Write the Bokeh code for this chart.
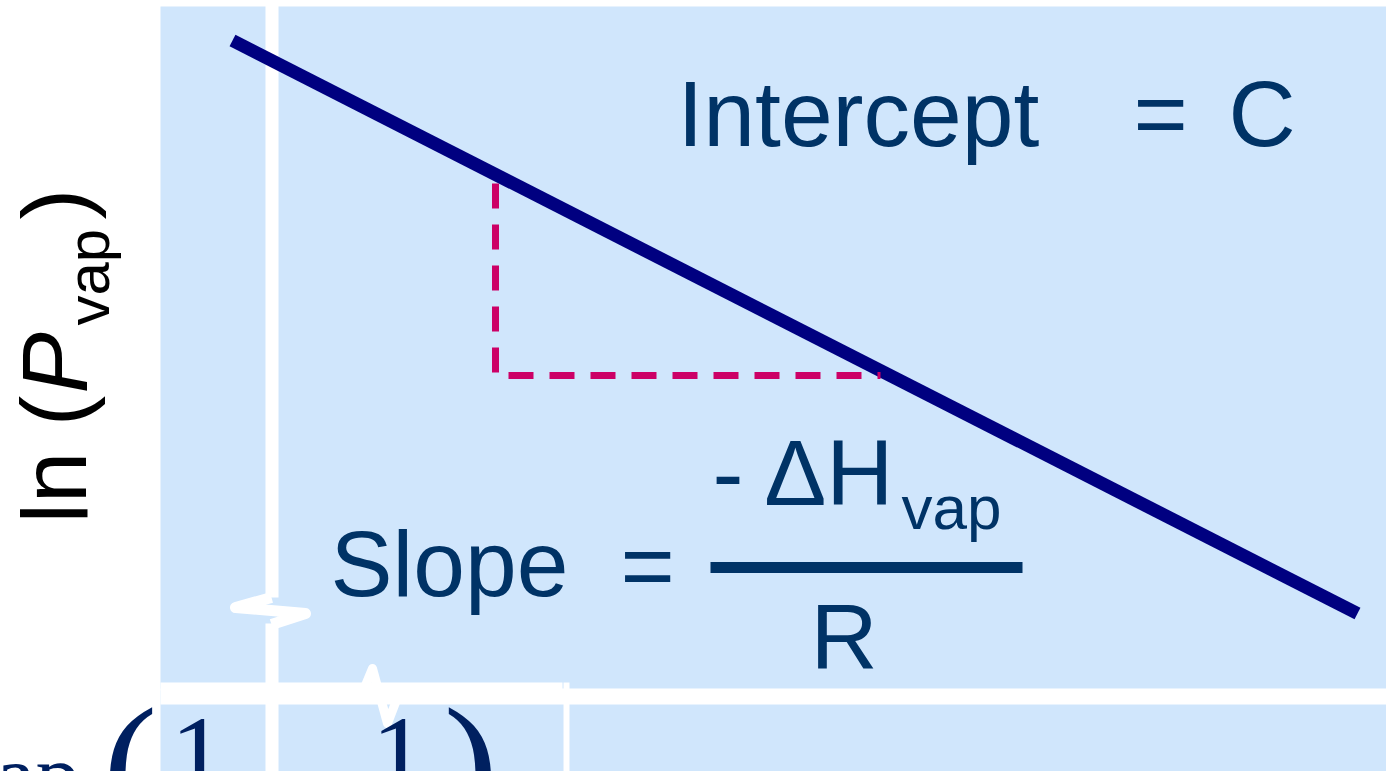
from bokeh.plotting import figure
from bokeh.models import Range1d
from bokeh.core.properties import value
from bokeh.embed import file_html
from bokeh.resources import INLINE

# ---- diagram data (screen-like units: x to the right, y downward) ----
# ln(P_vap) versus 1/T straight line
line_x = [232, 1357]
line_y = [40, 613]

# slope triangle (dashed)
tri_x = [495, 495, 880]
tri_y = [183, 375, 375]

# background panel and axes
panel_l, panel_r, panel_t, panel_b = [160], [1394], [6], [779]
band_l, band_r, band_t, band_b = [160, 160], [1394, 562], [688, 682], [704, 690]
vaxis_l, vaxis_r, vaxis_t, vaxis_b = [265, 265, 563], [278, 278, 569], [0, 623, 682], [597, 779, 779]
vbreak_x = [271, 235, 305, 271]
vbreak_y = [597, 607, 613, 624]
hbreak_x = [362, 372, 387, 397]
hbreak_y = [692, 668, 723, 697]

# texts (anchor positions; baselines shifted for the renderer's text offset)
main_text = ["Intercept", "=", "C", "Slope", "=", "- \u0394H", "R"]
main_tx = [677, 1133, 1228, 330, 620, 712, 810]
main_ty = [113, 113, 113, 563, 565, 472, 636]
sub_text = ["vap"]
sub_tx = [901]
sub_ty = [507]
frac_x = [710, 1022]
frac_y = [567, 567]

ylab_text = ["ln (", ")"]
ylab_tx = [54, 54]
ylab_ty = [523, 219]
ylab_p = ["P"]
ylab_px = [54]
ylab_py = [393]
ylab_sub = ["vap"]
ylab_subx = [88]
ylab_suby = [325]

eq_sub = ["vap"]
eq_subx = [80]
eq_suby = [776]
eq_one = ["1", "1"]
eq_onex = [170, 371]
eq_oney = [755, 755]
eq_par = ["(", ")"]
eq_parx = [102, 443]
eq_pary = [766, 766]

BLUE = "#D0E6FC"
NAVY = "#000080"
TXT = "#003366"
MAG = "#CC0066"

p = figure(width=1386, height=771, x_range=Range1d(0, 1386), y_range=Range1d(771, 0),
           output_backend="svg", toolbar_location=None,
           x_axis_location=None, y_axis_location=None, min_border=0)
p.grid.visible = False
p.outline_line_color = None
p.background_fill_color = "white"
p.border_fill_color = "white"

p.quad(left=panel_l, right=panel_r, top=panel_t, bottom=panel_b, fill_color=BLUE, line_color=None)
p.quad(left=band_l, right=band_r, top=band_t, bottom=band_b, fill_color="white", line_color=None)
p.quad(left=vaxis_l, right=vaxis_r, top=vaxis_t, bottom=vaxis_b, fill_color="white", line_color=None)
p.line(vbreak_x, vbreak_y, line_color="white", line_width=11, line_join="round")
p.line(hbreak_x, hbreak_y, line_color="white", line_width=9, line_join="round")

p.line(line_x, line_y, line_color=NAVY, line_width=13)
p.line(tri_x, tri_y, line_color=MAG, line_width=7, line_dash="25 16")

sans = value("Liberation Sans")
serif = value("Liberation Serif")

p.text(x=main_tx, y=main_ty, text=main_text, text_font=sans, text_font_size=value("93px"),
       text_color=TXT, text_baseline="alphabetic", text_align="left")
p.text(x=sub_tx, y=sub_ty, text=sub_text, text_font=sans, text_font_size=value("62px"),
       text_color=TXT, text_baseline="alphabetic", text_align="left")
p.line(frac_x, frac_y, line_color=TXT, line_width=11)

p.text(x=ylab_tx, y=ylab_ty, text=ylab_text, text_font=sans, text_font_size=value("92px"),
       text_color="black", angle=1.5708, text_baseline="alphabetic", text_align="left")
p.text(x=ylab_px, y=ylab_py, text=ylab_p, text_font=sans, text_font_size=value("92px"),
       text_font_style="italic", text_color="black", angle=1.5708,
       text_baseline="alphabetic", text_align="left")
p.text(x=ylab_subx, y=ylab_suby, text=ylab_sub, text_font=sans, text_font_size=value("60px"),
       text_color="black", angle=1.5708, text_baseline="alphabetic", text_align="left")

p.text(x=eq_subx, y=eq_suby, text=eq_sub, text_font=serif, text_font_size=value("90px"),
       text_color="#002060", text_baseline="alphabetic", text_align="right")
p.text(x=eq_onex, y=eq_oney, text=eq_one, text_font=serif, text_font_size=value("110px"),
       text_color="#002060", text_baseline="alphabetic", text_align="left")
p.text(x=eq_parx, y=eq_pary, text=eq_par, text_font=serif, text_font_size=value("165px"),
       text_color="#002060", text_baseline="alphabetic", text_align="left")

open("out.html", "w").write(file_html(p, INLINE))
